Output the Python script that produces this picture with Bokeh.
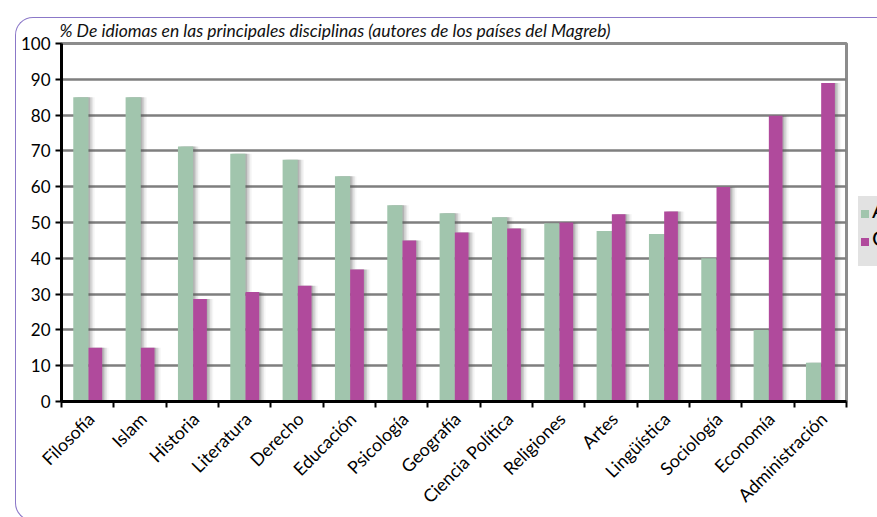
import math
from bokeh.plotting import figure
from bokeh.layouts import row
from bokeh.models import (Range1d, LinearAxis, FixedTicker, ColumnDataSource, Div)
from bokeh.transform import dodge
from bokeh.embed import file_html
from bokeh.resources import INLINE

categories = ["Filosofía", "Islam", "Historia", "Literatura", "Derecho", "Educación",
              "Psicología", "Geografía", "Ciencia Política", "Religiones", "Artes",
              "Lingüística", "Sociología", "Economía", "Administración"]
arabe = [85, 85, 71.2, 69.2, 67.5, 62.9, 54.8, 52.6, 51.5, 49.8, 47.6, 46.8, 40, 20, 10.8]
otros = [15, 15, 28.6, 30.6, 32.3, 36.9, 45, 47.2, 48.3, 50, 52.3, 53.1, 59.9, 79.8, 89]
y_ticks = list(range(0, 101, 10))
title_text = "% De idiomas en las principales disciplinas (autores de los países del Magreb)"
legend_labels = ["Árabe", "Otros idiomas"]

GREEN = "#a1c5ad"
PURPLE = "#b04a9c"
FONT = "Lato"

n = len(categories)
centers = [i + 0.5 for i in range(n)]
label_pos = [c + 0.06 for c in centers]
src = ColumnDataSource(dict(x=centers, cat=categories, arabe=arabe, otros=otros))

W = 853
p = figure(x_range=Range1d(0, n), y_range=Range1d(0, 100),
           width=W, height=517, output_backend="svg", toolbar_location=None,
           x_axis_location=None,
           min_border_left=61, min_border_right=7, min_border_top=43, min_border_bottom=115,
           background_fill_color="white", border_fill_color="white")

# title
p.title.text = title_text
p.title.text_font = FONT
p.title.text_font_style = "italic"
p.title.text_font_size = "17.5px"
p.title.text_color = "#111111"
p.title.align = "left"
p.title.offset = -2
p.title.standoff = 6

# shadows
for off, a in [(0.03, 0.22), (0.06, 0.16), (0.09, 0.10), (0.12, 0.05)]:
    p.vbar(x=dodge("x", -0.13 + off), top="arabe", width=0.29,
           source=src, fill_color="#555555", fill_alpha=a, line_color=None)
    p.vbar(x=dodge("x", 0.147 + off), top="otros", width=0.262,
           source=src, fill_color="#555555", fill_alpha=a, line_color=None)

p.vbar(x=dodge("x", -0.13), top="arabe", width=0.29,
       source=src, fill_color=GREEN, line_color=None)
p.vbar(x=dodge("x", 0.147), top="otros", width=0.262,
       source=src, fill_color=PURPLE, line_color=None)

# y axis
yax = p.yaxis[0]
yax.ticker = FixedTicker(ticks=y_ticks)
yax.axis_line_color = "black"
yax.axis_line_width = 3
yax.major_tick_line_color = "black"
yax.major_tick_line_width = 2
yax.major_tick_out = 6
yax.major_tick_in = 0
yax.minor_tick_line_color = None
yax.major_label_text_font = FONT
yax.major_label_text_font_size = "17px"
yax.major_label_text_color = "black"
yax.major_label_standoff = 5

p.ygrid.ticker = FixedTicker(ticks=y_ticks)
p.ygrid.grid_line_color = "#7f7f7f"
p.ygrid.grid_line_width = 2.5
p.xgrid.grid_line_color = None

p.outline_line_color = "#8c8c8c"
p.outline_line_width = 3

# boundary tick axis (ticks between categories)
tax = LinearAxis(ticker=FixedTicker(ticks=list(range(n + 1))))
tax.axis_line_color = "black"
tax.axis_line_width = 3
tax.major_tick_line_color = "black"
tax.major_tick_line_width = 2
tax.major_tick_out = 6
tax.major_tick_in = 0
tax.minor_tick_line_color = None
tax.major_label_overrides = {i: "" for i in range(n + 1)}
tax.major_label_text_font_size = "1px"
tax.major_label_standoff = 0
p.add_layout(tax, "below")

# category label axis
cax = LinearAxis(ticker=FixedTicker(ticks=label_pos))
cax.major_label_overrides = {c: lab for c, lab in zip(label_pos, categories)}
cax.axis_line_color = None
cax.major_tick_line_color = None
cax.minor_tick_line_color = None
cax.major_label_orientation = math.pi / 4
cax.major_label_text_font = FONT
cax.major_label_text_font_size = "17.8px"
cax.major_label_text_color = "black"
cax.major_label_standoff = 2
p.add_layout(cax, "below")

# legend (partially cut by the window's right edge, as in the original)
legend_html = f"""
<div style="position:relative;width:24px;height:517px;overflow:hidden;">
 <div style="position:absolute;left:0px;top:191px;width:220px;height:70px;background:#e2e2e2;
             font-family:{FONT};font-size:22px;line-height:22px;white-space:nowrap;color:black;">
  <div style="position:absolute;left:3px;top:14px;width:8px;height:8px;background:{GREEN};"></div>
  <div style="position:absolute;left:14px;top:3px;">{legend_labels[0]}</div>
  <div style="position:absolute;left:3px;top:42px;width:8px;height:8px;background:{PURPLE};"></div>
  <div style="position:absolute;left:14px;top:31px;">{legend_labels[1]}</div>
 </div>
</div>"""
legend_div = Div(text=legend_html, width=24, height=517, styles={"overflow": "hidden"})

# outer rounded frame of the chart
frame_div = Div(text="", width=0, height=0,
                styles={"position": "absolute", "left": "10px", "top": "12px",
                        "width": "867px", "height": "504px", "box-sizing": "border-box",
                        "border-left": "1.5px solid #8b78c8", "border-top": "1.5px solid #8b78c8",
                        "border-bottom": "1.5px solid #8b78c8", "border-right": "none",
                        "border-top-left-radius": "18px", "border-bottom-left-radius": "18px",
                        "pointer-events": "none"})

layout = row(p, legend_div, frame_div)
open("out.html", "w").write(file_html(layout, INLINE))
